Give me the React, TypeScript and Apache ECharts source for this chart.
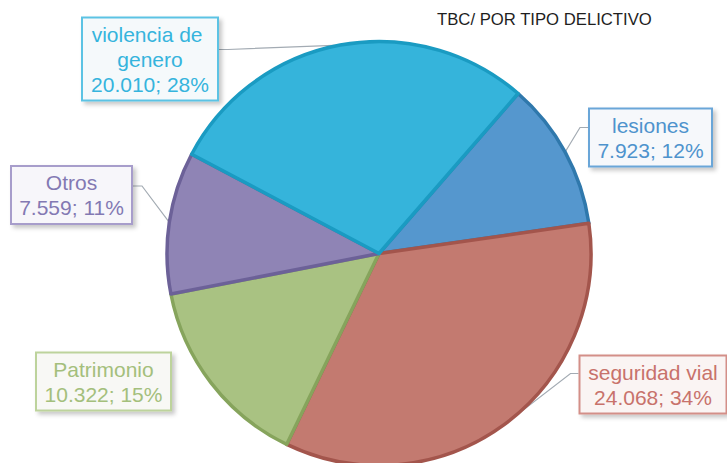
import React, { useEffect, useRef } from "react";
import * as echarts from "echarts";

const categories = ["lesiones", "seguridad vial", "Patrimonio", "Otros", "violencia de genero"];
const values = [7923, 24068, 10322, 7559, 20010];
const percentLabels = [12, 34, 15, 11, 28];
const titleText = "TBC/ POR TIPO DELICTIVO";

const fills = ["#5597CE", "#C37A70", "#A9C282", "#8F84B5", "#35B4DB"];
const borders = ["#2F78AC", "#A3554C", "#86A45C", "#6C6198", "#1A9BC2"];
const textColors = ["#4E93CD", "#C8726B", "#A4BF7C", "#8379B3", "#35B4DD"];
const boxBorders = ["#6AA6D8", "#D38F88", "#BDD39C", "#A79DCB", "#5CC3E4"];
const boxBgs = ["#F6F8FB", "#FAF4F3", "#F8F8F5", "#F7F6FA", "#F5F9FB"];

// label box layout: center x, center y, box width, line anchor offset from box top, side
const labelBoxes = [
  { cx: 650.5, cy: 137.5, w: 125, anchor: 20, side: "right", line: true },
  { cx: 653, cy: 384.5, w: 149, anchor: 19, side: "right", line: true },
  { cx: 103.5, cy: 381.5, w: 137, anchor: 20, side: "left", line: false },
  { cx: 71.5, cy: 195, w: 123, anchor: 21, side: "left", line: true },
  { cx: 150, cy: 59, w: 138, anchor: 33, side: "left", line: true },
];

function fmtThousands(n: number): string {
  return String(n).replace(/\B(?=(\d{3})+(?!\d))/g, ".");
}

export default function App() {
  const ref = useRef<HTMLDivElement>(null);
  useEffect(() => {
    if (!ref.current) return;
    const chart = echarts.init(ref.current, null, { renderer: "svg" });
    const data = categories.map((name, i) => ({
      name,
      value: values[i],
      itemStyle: { color: fills[i], borderColor: borders[i], borderWidth: 3.5 },
      label: {
        color: textColors[i],
        borderColor: boxBorders[i],
        backgroundColor: boxBgs[i],
        width: labelBoxes[i].w - 14,
      },
      labelLine: { show: labelBoxes[i].line },
    }));
    chart.setOption({
      animation: false,
      title: {
        text: titleText,
        left: 437,
        top: 11,
        padding: 0,
        textStyle: {
          fontSize: 16.7,
          fontWeight: "normal",
          color: "#1E1E1E",
          fontFamily: "Liberation Sans, Arial, sans-serif",
        },
      },
      series: [
        {
          type: "pie",
          center: [379, 253.5],
          radius: 212,
          startAngle: 49,
          clockwise: true,
          data,
          label: {
            show: true,
            position: "outside",
            fontFamily: "Liberation Sans, Arial, sans-serif",
            fontSize: 21,
            lineHeight: 25,
            align: "center",
            overflow: "break",
            padding: [3, 5],
            borderWidth: 2,
            shadowColor: "rgba(0,0,0,0.22)",
            shadowBlur: 4,
            shadowOffsetX: 3,
            shadowOffsetY: 3,
            formatter: (p: any) =>
              `${p.name}\n${fmtThousands(p.value)}; ${percentLabels[p.dataIndex]}%`,
          },
          labelLine: {
            show: true,
            length: 10,
            length2: 10,
            lineStyle: { color: "#A3ABB3", width: 1.2 },
          },
          labelLayout: (params: any) => {
            const b = labelBoxes[params.dataIndex];
            const h = params.labelRect.height;
            const top = b.cy - h / 2;
            const ey = top + b.anchor;
            const pts = params.labelLinePoints;
            const start = pts ? pts[0] : [0, 0];
            let end: number[];
            let bend: number[];
            if (b.side === "right") {
              end = [b.cx - b.w / 2, ey];
              bend = [end[0] - 8, ey];
            } else {
              end = [b.cx + b.w / 2, ey];
              bend = [end[0] + 9, ey];
            }
            return {
              x: b.cx,
              y: b.cy,
              align: "center",
              verticalAlign: "middle",
              labelLinePoints: [start, bend, end],
            };
          },
        },
      ],
    });
    return () => chart.dispose();
  }, []);
  return (
    <div
      ref={ref}
      style={{ position: "fixed", left: 0, top: 0, width: 727, height: 463, background: "#fff" }}
    />
  );
}
